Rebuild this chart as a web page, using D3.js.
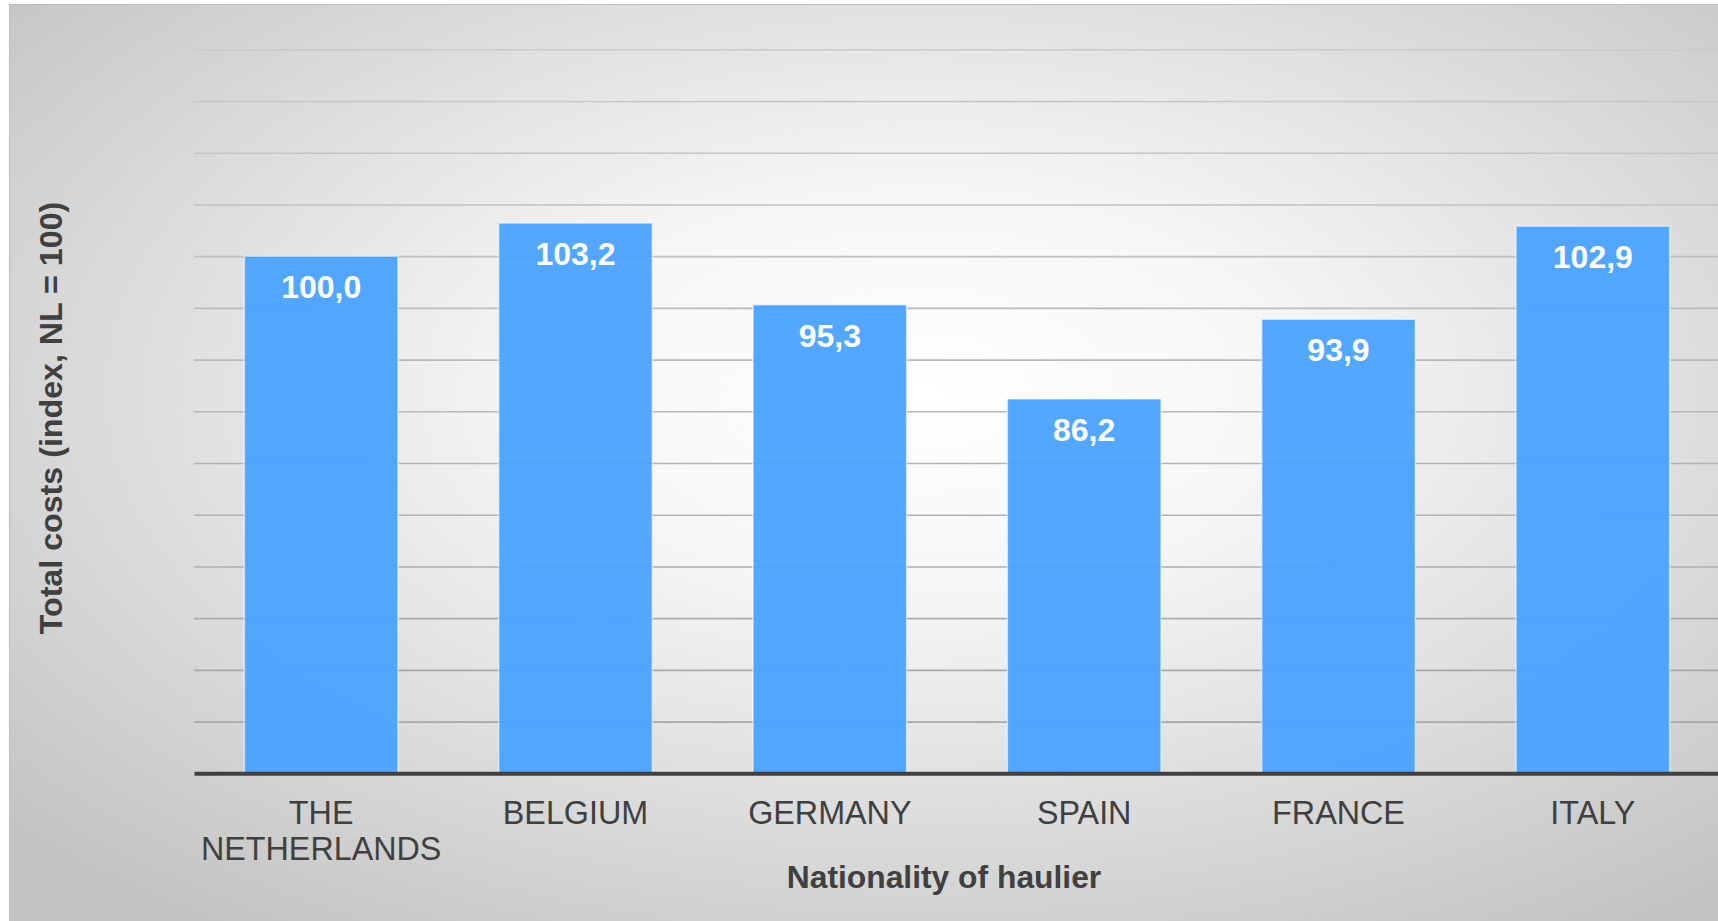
<!DOCTYPE html>
<html>
<head>
<meta charset="utf-8">
<script src="https://cdn.jsdelivr.net/npm/d3@7"></script>
<style>
    body { margin: 0; background: #ffffff; }
    svg { display: block; font-family: "Liberation Sans", Arial, sans-serif; }
</style>
</head>
<body>
<svg id="drawing_region"></svg>
<script>
// data
const countries = ["THE NETHERLANDS", "BELGIUM", "GERMANY", "SPAIN", "FRANCE", "ITALY"];
const labelLines = [["THE", "NETHERLANDS"], ["BELGIUM"], ["GERMANY"], ["SPAIN"], ["FRANCE"], ["ITALY"]];
const totalCosts = [100.0, 103.2, 95.3, 86.2, 93.9, 102.9];
const yTicks = [50, 55, 60, 65, 70, 75, 80, 85, 90, 95, 100, 105, 110, 115, 120];

const data = countries.map((c, i) => ({country: c, lines: labelLines[i], num: totalCosts[i]}));

var config = {
    parent: '#drawing_region',
    width: 1718,
    height: 921,
    margin: {top: 49.3, right: -2, bottom: 147.7, left: 194}
};

const svg = d3.select(config.parent)
    .attr('width', config.width)
    .attr('height', config.height);

// background gradient
const defs = svg.append('defs');
const bg = defs.append('radialGradient')
    .attr('id', 'bg')
    .attr('cx', 0.53).attr('cy', 0.42).attr('r', 0.72)
    .attr('fx', 0.53).attr('fy', 0.42);
bg.append('stop').attr('offset', 0).attr('stop-color', '#ffffff');
bg.append('stop').attr('offset', 0.3).attr('stop-color', '#f6f6f6');
bg.append('stop').attr('offset', 1).attr('stop-color', '#c2c2c2');

svg.append('rect')
    .attr('x', 9.5).attr('y', 4.5)
    .attr('width', config.width)
    .attr('height', config.height)
    .attr('fill', 'url(#bg)')
    .attr('stroke', '#bdbdbd')
    .attr('stroke-width', 1);

const inner_width = config.width - config.margin.left - config.margin.right;
const inner_height = config.height - config.margin.top - config.margin.bottom;

const chart = svg.append('g')
    .attr('transform', `translate(${config.margin.left}, ${config.margin.top})`);

// scales
const xscale = d3.scaleBand()
    .domain(countries)
    .range([0, inner_width])
    .paddingInner(0.396)
    .paddingOuter(0.198);

const yscale = d3.scaleLinear()
    .domain([50, 120])
    .range([inner_height, 0]);

// gridlines (darker towards the bottom)
const gridColor = d3.scaleLinear().domain([50, 120]).range(['#a4a4a4', '#cacaca']);
const yaxis = d3.axisLeft(yscale)
    .tickValues(yTicks.slice(1))
    .tickSize(-inner_width)
    .tickFormat('');
chart.append('g')
    .attr('class', 'grid')
    .call(yaxis)
    .call(g => g.select('.domain').remove())
    .call(g => g.selectAll('.tick line')
        .attr('stroke', d => gridColor(d))
        .attr('stroke-width', 1.6));

// bars
chart.selectAll('rect.bar')
    .data(data)
    .join('rect')
    .attr('class', 'bar')
    .attr('x', d => xscale(d.country))
    .attr('y', d => yscale(d.num))
    .attr('width', xscale.bandwidth())
    .attr('height', d => inner_height - yscale(d.num))
    .attr('fill', '#4aa2ff')
    .attr('fill-opacity', 0.95)
    .attr('stroke', 'rgba(255,255,255,0.55)')
    .attr('stroke-width', 1.5);

// value labels
chart.selectAll('text.value')
    .data(data)
    .join('text')
    .attr('class', 'value')
    .attr('x', d => xscale(d.country) + xscale.bandwidth() / 2)
    .attr('y', d => yscale(d.num) + 42)
    .attr('text-anchor', 'middle')
    .attr('fill', '#ffffff')
    .attr('font-size', '32px')
    .attr('font-weight', 'bold')
    .text(d => d.num.toFixed(1).replace('.', ','));

// x axis
const xaxis = d3.axisBottom(xscale).tickSize(0).tickFormat('');
const xaxis_group = chart.append('g')
    .attr('transform', `translate(0, ${inner_height})`)
    .call(xaxis);
xaxis_group.select('.domain')
    .attr('stroke', '#404040')
    .attr('stroke-width', 4);

xaxis_group.selectAll('.tick')
    .data(data)
    .append('text')
    .attr('fill', '#404040')
    .attr('font-size', '32.3px')
    .attr('text-anchor', 'middle')
    .selectAll('tspan')
    .data(d => d.lines)
    .join('tspan')
    .attr('x', 0)
    .attr('y', (d, i) => 51 + i * 36)
    .text(d => d);

// axis titles
svg.append('text')
    .attr('x', 944)
    .attr('y', 888)
    .attr('text-anchor', 'middle')
    .attr('fill', '#404040')
    .attr('font-size', '31.8px')
    .attr('font-weight', 'bold')
    .text('Nationality of haulier');

svg.append('text')
    .attr('transform', 'translate(62, 418) rotate(-90)')
    .attr('text-anchor', 'middle')
    .attr('fill', '#404040')
    .attr('font-size', '32.2px')
    .attr('font-weight', 'bold')
    .text('Total costs (index, NL = 100)');
</script>
</body>
</html>
